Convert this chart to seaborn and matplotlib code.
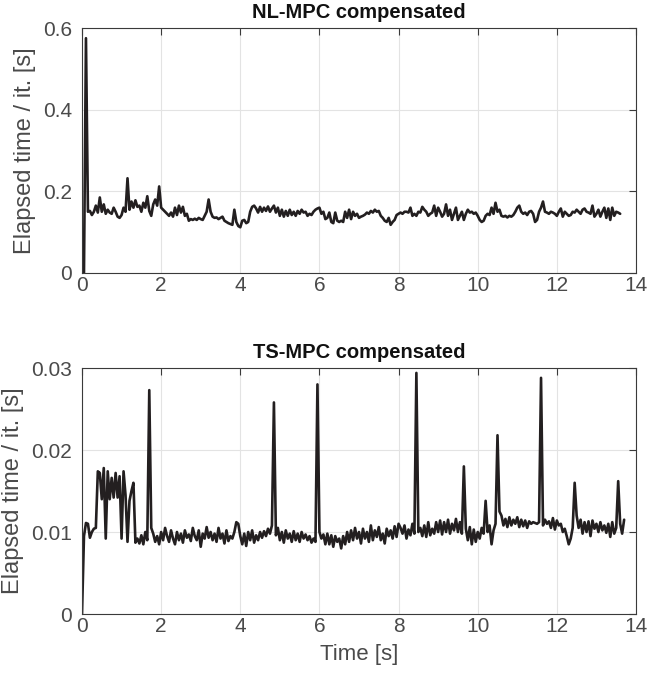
import numpy as np
import pandas as pd
import matplotlib
matplotlib.use("Agg")
import matplotlib.pyplot as plt
import seaborn as sns

# ---------------- data ----------------
dt = 0.05  # sample time [s]

nl_mpc_times = [
    0.000, 0.000, 0.575, 0.150, 0.152, 0.142, 0.150, 0.165, 0.148, 0.185,
    0.150, 0.168, 0.145, 0.155, 0.148, 0.145, 0.160, 0.150, 0.138, 0.135,
    0.142, 0.160, 0.150, 0.232, 0.155, 0.175, 0.160, 0.178, 0.162, 0.165,
    0.150, 0.172, 0.160, 0.188, 0.152, 0.140, 0.168, 0.180, 0.165, 0.212,
    0.160, 0.155, 0.150, 0.145, 0.140, 0.148, 0.138, 0.160, 0.142, 0.165,
    0.148, 0.162, 0.140, 0.145, 0.128, 0.132, 0.130, 0.133, 0.130, 0.135,
    0.132, 0.130, 0.140, 0.150, 0.180, 0.150, 0.138, 0.135, 0.136, 0.132,
    0.135, 0.138, 0.128, 0.125, 0.122, 0.120, 0.118, 0.155, 0.125, 0.115,
    0.112, 0.128, 0.130, 0.122, 0.125, 0.150, 0.162, 0.165, 0.158, 0.148,
    0.162, 0.150, 0.160, 0.152, 0.163, 0.150, 0.158, 0.165, 0.148, 0.160,
    0.140, 0.155, 0.138, 0.152, 0.140, 0.155, 0.142, 0.150, 0.140, 0.152,
    0.145, 0.155, 0.148, 0.150, 0.140, 0.145, 0.142, 0.150, 0.155, 0.158,
    0.160, 0.145, 0.150, 0.132, 0.135, 0.148, 0.125, 0.122, 0.148, 0.128,
    0.125, 0.128, 0.125, 0.150, 0.135, 0.155, 0.132, 0.150, 0.140, 0.145,
    0.135, 0.138, 0.140, 0.143, 0.148, 0.145, 0.152, 0.148, 0.155, 0.150,
    0.152, 0.140, 0.135, 0.128, 0.125, 0.135, 0.118, 0.125, 0.130, 0.142,
    0.145, 0.148, 0.145, 0.150, 0.150, 0.148, 0.160, 0.140, 0.145, 0.140,
    0.150, 0.148, 0.162, 0.155, 0.150, 0.140, 0.145, 0.148, 0.165, 0.140,
    0.160, 0.150, 0.138, 0.145, 0.168, 0.140, 0.155, 0.130, 0.145, 0.160,
    0.130, 0.140, 0.150, 0.130, 0.145, 0.155, 0.148, 0.150, 0.145, 0.148,
    0.140, 0.130, 0.125, 0.128, 0.140, 0.145, 0.142, 0.160, 0.145, 0.172,
    0.150, 0.155, 0.140, 0.138, 0.140, 0.136, 0.140, 0.138, 0.142, 0.150,
    0.160, 0.165, 0.150, 0.145, 0.148, 0.142, 0.150, 0.152, 0.145, 0.125,
    0.130, 0.150, 0.160, 0.175, 0.150, 0.148, 0.145, 0.150, 0.148, 0.145,
    0.140, 0.150, 0.158, 0.138, 0.150, 0.145, 0.140, 0.142, 0.150, 0.148,
    0.155, 0.150, 0.145, 0.155, 0.158, 0.150, 0.148, 0.145, 0.165, 0.138,
    0.145, 0.155, 0.138, 0.150, 0.160, 0.135, 0.158, 0.130, 0.160, 0.140,
    0.150, 0.148, 0.145,
]

ts_mpc_times = [
    0.0000, 0.0095, 0.0111, 0.0110, 0.0093, 0.0100, 0.0104, 0.0105, 0.0174, 0.0172,
    0.0140, 0.0178, 0.0092, 0.0174, 0.0140, 0.0166, 0.0142, 0.0172, 0.0142, 0.0168,
    0.0092, 0.0174, 0.0145, 0.0088, 0.0138, 0.0150, 0.0160, 0.0087, 0.0092, 0.0086,
    0.0096, 0.0085, 0.0100, 0.0090, 0.0273, 0.0105, 0.0098, 0.0088, 0.0095, 0.0085,
    0.0100, 0.0090, 0.0105, 0.0095, 0.0088, 0.0102, 0.0092, 0.0085, 0.0100, 0.0090,
    0.0098, 0.0087, 0.0102, 0.0093, 0.0097, 0.0089, 0.0105, 0.0095, 0.0090, 0.0102,
    0.0082, 0.0098, 0.0092, 0.0106, 0.0093, 0.0100, 0.0090, 0.0098, 0.0088, 0.0105,
    0.0092, 0.0098, 0.0086, 0.0102, 0.0089, 0.0095, 0.0092, 0.0100, 0.0112, 0.0110,
    0.0095, 0.0085, 0.0098, 0.0083, 0.0100, 0.0090, 0.0102, 0.0087, 0.0096, 0.0090,
    0.0100, 0.0093, 0.0101, 0.0095, 0.0104, 0.0098, 0.0108, 0.0258, 0.0096, 0.0105,
    0.0090, 0.0100, 0.0087, 0.0102, 0.0092, 0.0098, 0.0088, 0.0101, 0.0090, 0.0098,
    0.0088, 0.0100, 0.0092, 0.0097, 0.0090, 0.0095, 0.0087, 0.0092, 0.0088, 0.0280,
    0.0100, 0.0092, 0.0097, 0.0085, 0.0098, 0.0085, 0.0096, 0.0082, 0.0095, 0.0088,
    0.0092, 0.0080, 0.0095, 0.0085, 0.0100, 0.0088, 0.0102, 0.0090, 0.0105, 0.0092,
    0.0100, 0.0086, 0.0104, 0.0092, 0.0100, 0.0088, 0.0108, 0.0090, 0.0102, 0.0094,
    0.0106, 0.0090, 0.0098, 0.0086, 0.0104, 0.0095, 0.0102, 0.0092, 0.0107, 0.0094,
    0.0110, 0.0105, 0.0098, 0.0108, 0.0092, 0.0103, 0.0096, 0.0110, 0.0098, 0.0294,
    0.0100, 0.0105, 0.0095, 0.0108, 0.0094, 0.0112, 0.0096, 0.0104, 0.0098, 0.0112,
    0.0100, 0.0114, 0.0097, 0.0112, 0.0100, 0.0115, 0.0098, 0.0110, 0.0102, 0.0116,
    0.0100, 0.0112, 0.0098, 0.0180, 0.0104, 0.0090, 0.0106, 0.0085, 0.0103, 0.0088,
    0.0100, 0.0092, 0.0105, 0.0098, 0.0138, 0.0100, 0.0108, 0.0085, 0.0102, 0.0110,
    0.0218, 0.0125, 0.0120, 0.0108, 0.0116, 0.0106, 0.0118, 0.0108, 0.0115, 0.0110,
    0.0118, 0.0106, 0.0115, 0.0107, 0.0114, 0.0105, 0.0113, 0.0110, 0.0112, 0.0111,
    0.0110, 0.0112, 0.0288, 0.0108, 0.0115, 0.0110, 0.0113, 0.0105, 0.0117, 0.0103,
    0.0114, 0.0108, 0.0110, 0.0100, 0.0104, 0.0095, 0.0085, 0.0092, 0.0105, 0.0160,
    0.0120, 0.0105, 0.0115, 0.0098, 0.0112, 0.0100, 0.0113, 0.0095, 0.0114, 0.0104,
    0.0110, 0.0100, 0.0112, 0.0102, 0.0108, 0.0099, 0.0110, 0.0094, 0.0112, 0.0098,
    0.0105, 0.0162, 0.0110, 0.0098, 0.0115,
]

titles = ["NL-MPC compensated", "TS-MPC compensated"]
y_label = "Elapsed time / it. [s]"
x_label = "Time [s]"
x_ticks = [0, 2, 4, 6, 8, 10, 12, 14]
top_yticks = [0, 0.2, 0.4, 0.6]
top_yticklabels = ["0", "0.2", "0.4", "0.6"]
bot_yticks = [0, 0.01, 0.02, 0.03]
bot_yticklabels = ["0", "0.01", "0.02", "0.03"]

# ---------------- style ----------------
sns.set_style("white")
plt.rcParams["font.family"] = ["Liberation Sans", "DejaVu Sans"]

text_col = "#4a4a4a"
axis_col = "#3a3a3a"
line_col = "#231f20"

fig = plt.figure(figsize=(6.49, 6.73), dpi=100)
ax1 = fig.add_axes([82 / 649, 1 - 273 / 673, 554 / 649, 245 / 673])
ax2 = fig.add_axes([82 / 649, 1 - 614 / 673, 554 / 649, 246 / 673])


def make_df(vals):
    return pd.DataFrame({"t": np.arange(len(vals)) * dt, "v": vals})


panels = [
    (ax1, make_df(nl_mpc_times), titles[0], top_yticks, top_yticklabels, (0, 0.6)),
    (ax2, make_df(ts_mpc_times), titles[1], bot_yticks, bot_yticklabels, (0, 0.03)),
]

for ax, df, title, yt, ytl, ylim in panels:
    sns.lineplot(data=df, x="t", y="v", ax=ax, color=line_col, linewidth=1.9,
                 estimator=None, sort=False)
    ax.set_xlim(0, 14)
    ax.set_ylim(*ylim)
    ax.set_xticks(x_ticks)
    ax.set_xticklabels([str(v) for v in x_ticks])
    ax.set_yticks(yt)
    ax.set_yticklabels(ytl)
    ax.grid(True, color="#e3e3e3", linewidth=0.8)
    ax.set_axisbelow(True)
    for sp in ax.spines.values():
        sp.set_visible(True)
        sp.set_color(axis_col)
        sp.set_linewidth(0.8)
    ax.tick_params(direction="in", length=5, width=0.8, colors=axis_col,
                   labelcolor=text_col, labelsize=15, top=True, right=True)
    ax.tick_params(axis="y", pad=7)
    ax.tick_params(axis="x", pad=2)
    ax.set_title(title, fontsize=14.5, fontweight="bold", color="#111111", pad=7)
    ax.set_ylabel(y_label, fontsize=17, color=text_col, labelpad=5)
    ax.set_xlabel("")

ax2.set_xlabel(x_label, fontsize=16, color=text_col, labelpad=6)

fig.savefig("out.png", dpi=100)
